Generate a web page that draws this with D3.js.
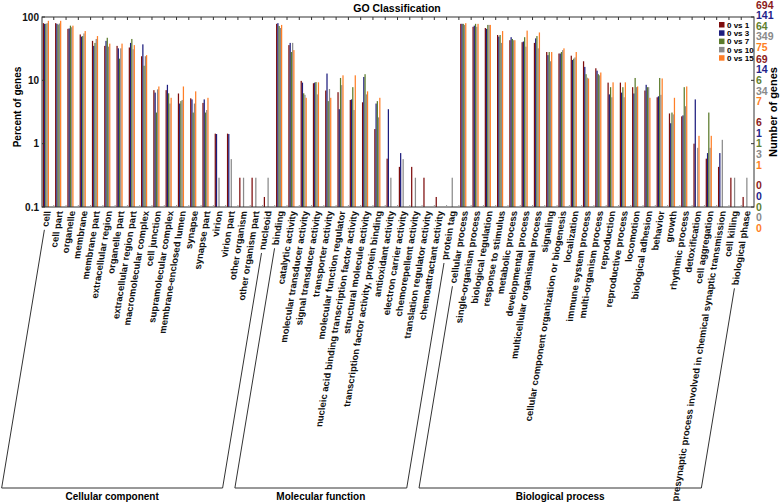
<!DOCTYPE html>
<html><head><meta charset="utf-8">
<script src="https://cdn.jsdelivr.net/npm/d3@7"></script>
<style>body{margin:0;background:#fff} svg{display:block}</style>
</head><body>
<svg id="c" width="783" height="502"></svg>
<script>
const ccTerms = ["cell","cell part","organelle","membrane","membrane part","extracellular region","organelle part","extracellular region part","macromolecular complex","cell junction","supramolecular complex","membrane-enclosed lumen","synapse","synapse part","virion","virion part","other organism","other organism part","nucleoid"];
const mfTerms = ["binding","catalytic activity","molecular transducer activity","signal transducer activity","transporter activity","molecular function regulator","nucleic acid binding transcription factor activity","structural molecule activity","transcription factor activity, protein binding","antioxidant activity","electron carrier activity","chemorepellent activity","translation regulator activity","chemoattractant activity","protein tag"];
const bpTerms = ["cellular process","single-organism process","biological regulation","response to stimulus","metabolic process","developmental process","multicellular organismal process","signaling","cellular component organization or biogenesis","localization","immune system process","multi-organism process","reproduction","reproductive process","locomotion","biological adhesion","behavior","growth","rhythmic process","detoxification","cell aggregation","presynaptic process involved in chemical synaptic transmission","cell killing","biological phase"];
const ontologies = ["Cellular component","Molecular function","Biological process"];
const categories = [...ccTerms, ...mfTerms, ...bpTerms];

const seriesNames = ["0 vs 1","0 vs 3","0 vs 7","0 vs 10","0 vs 15"];
const vs1 = [80,80,65,53,42,35,35,33,24,7.0,7.0,6.2,5.2,4.4,1.44,1.44,0.29,0.29,0.144,
 78,36,9.8,9.0,6.9,6.5,4.9,4.5,1.7,0.58,0.43,0.43,0.29,0.144,0,
 78,70,67,52,43,40,39,28,26.5,24.5,20,15.5,9.2,9.2,7.8,6.9,5.4,3.0,2.7,1.0,0.58,0.43,0.29,0.144];
const vs3 = [78,78,66,49,35,42,32,39,37,6.4,8.5,4.3,5.0,5.0,1.42,1.42,0,0,0,
 80,39,9.2,9.2,12.8,3.5,5.0,11.3,4.3,3.5,0.71,0,0,0,0,
 78,73,65,49,48,41,46,25,26.5,21,16.3,14.2,6.0,6.4,6.2,8.5,5.6,2.1,2.8,5.0,0.71,0.71,0,0];
const vs7 = [78,76,73,50,39,47,22,45,17,3.1,6.25,4.7,3.1,3.1,0,0,0,0,0,
 72,28,6.25,9.4,4.7,10.9,7.8,12.5,4.7,0,0,0,0,0,0,
 78,78,75,52,45,48,50,28,28,22,12.5,12.5,7.8,7.8,10.9,7.8,10.9,3.1,7.8,0,3.1,0,0,0];
const vs10 = [80,79,69,55,45,34,32,31,24,7.2,4.3,4.9,4.3,3.4,0.29,0.57,0.29,0.29,0.29,
 67,39,5.9,6.0,7.3,8.4,3.4,6.0,2.6,0.29,0.57,0.29,0,0,0.29,
 75,70,75,39,43,34,32,20,30,23,11,12.0,5.4,5.4,7.8,7.8,5.9,2.9,3.9,0.86,0.86,1.15,0.29,0.29];
const vs15 = [87,87,73,60,50,38,38,36,25,8.0,5.3,8.0,6.7,5.3,0,0,0,0,0,
 75,30,5.3,9.3,5.3,12.0,12.0,6.7,5.3,0,0,0,0,0,0,
 80,78,75,60,43,61,57,28,32,28,10.7,13.3,9.3,9.3,8.0,5.3,10.7,5.3,8.0,1.33,1.33,0,0,0];
const seriesValues = [vs1, vs3, vs7, vs10, vs15];

const yTicks = [100, 10, 1, 0.1];
const yTickLabels = ["100","10","1","0.1"];
const geneCounts = [[694,141,64,349,75],[69,14,6,34,7],[6,1,1,3,1],[0,0,0,0,0]];

const colors = ["#7d0c0c","#1d1d7e","#5b7b2b","#8a8a8a","#ff7f27"];
const labelColors = ["#8b1a1a","#22228a","#5f7f2f","#8a8a8a","#ff7f1e"];

const svg = d3.select("#c");
const L = 42, R = 754, T = 17, B = 207;
const narrow = "'Liberation Sans Narrow','Arial Narrow','Liberation Sans',Arial,sans-serif";
const sans = "'Liberation Sans',Arial,sans-serif";

const x0 = d3.scaleBand().domain(categories).range([L, R]).padding(0);
const x1 = d3.scaleBand().domain(seriesNames).range([0.8, 7.0]);
const y = d3.scaleLog().domain([0.1, 100]).range([B, T]);

// bars
const bars = [];
categories.forEach((c, i) => seriesNames.forEach((s, k) => {
  const v = seriesValues[k][i];
  if (v > 0) bars.push({c, s, k, v});
}));
svg.append("g").selectAll("rect").data(bars).join("rect")
  .attr("x", d => x0(d.c) + x1(d.s))
  .attr("width", x1.bandwidth())
  .attr("y", d => y(d.v))
  .attr("height", d => B - y(d.v))
  .attr("fill", d => colors[d.k]);

// frame
svg.append("rect").attr("x", L).attr("y", T).attr("width", R - L).attr("height", B - T)
  .attr("fill", "none").attr("stroke", "#333").attr("stroke-width", 1);

// category ticks top & bottom
svg.append("g").selectAll("line").data(categories.slice(1)).join("line")
  .attr("x1", d => x0(d) - 0.5).attr("x2", d => x0(d) - 0.5)
  .attr("y1", T).attr("y2", T + 3).attr("stroke", "#333");
svg.append("g").selectAll("line").data(categories.slice(1)).join("line")
  .attr("x1", d => x0(d) - 0.5).attr("x2", d => x0(d) - 0.5)
  .attr("y1", B).attr("y2", B - 2).attr("stroke", "#999");

// left axis
const yl = svg.append("g");
yl.selectAll("line").data(yTicks).join("line")
  .attr("x1", L).attr("x2", L + 3).attr("y1", d => y(d)).attr("y2", d => y(d)).attr("stroke", "#333");
yl.selectAll("text").data(yTicks).join("text")
  .attr("x", L - 3).attr("y", d => y(d)).attr("dy", "0.35em").attr("text-anchor", "end")
  .style("font", `bold 10px ${narrow}`).attr("fill", "#111")
  .text((d, i) => yTickLabels[i]);

// right axis
const yr = svg.append("g");
yr.selectAll("line").data(yTicks).join("line")
  .attr("x1", R - 3).attr("x2", R).attr("y1", d => y(d)).attr("y2", d => y(d)).attr("stroke", "#333");
const SP = 10.6;
yTicks.forEach((t, ti) => {
  const base = Math.max(y(t), 5 + 2 * SP);
  geneCounts[ti].forEach((n, k) => {
    yr.append("text").attr("x", R + 2).attr("y", base + (k - 2) * SP).attr("dy", "0.35em")
      .style("font", `bold 10.5px ${narrow}`).attr("fill", labelColors[k]).text(n);
  });
});

// title & axis titles
svg.append("text").attr("x", 397).attr("y", 11.5).attr("text-anchor", "middle")
  .style("font", `bold 10.5px ${narrow}`).text("GO Classification");
svg.append("text").attr("transform", "translate(21,107) rotate(-90)").attr("text-anchor", "middle")
  .style("font", `bold 10px ${narrow}`).text("Percent of genes");
svg.append("text").attr("transform", "translate(777,112) rotate(-90)").attr("text-anchor", "middle")
  .style("font", `bold 11px ${narrow}`).text("Number of genes");

// legend
const lg = svg.append("g");
seriesNames.forEach((s, k) => {
  const cy = 25 + k * 8.3;
  lg.append("rect").attr("x", 719).attr("y", cy - 3).attr("width", 5.5).attr("height", 5.5).attr("fill", colors[k]);
  lg.append("text").attr("x", 727).attr("y", cy).attr("dy", "0.35em")
    .style("font", `bold 8px ${narrow}`).text(s);
});

// category labels (vertical text, sheared)
const skew = -9.4, tanS = Math.tan(skew * Math.PI / 180);
const AY = 211, OFF = 5.5, BOT = 488;
const labs = svg.append("g").selectAll("text").data(categories).join("text")
  .attr("transform", d => `translate(${x0(d) + OFF},${AY}) skewX(${skew}) rotate(-90)`)
  .attr("text-anchor", "end").attr("dy", "0.35em")
  .style("font", `bold 9.5px ${sans}`).attr("fill", "#111")
  .text(d => d);
const lenOf = {};
labs.each(function(d) { lenOf[d] = this.getComputedTextLength(); });

// ontology brackets
const termSets = [ccTerms, mfTerms, bpTerms];
const br = svg.append("g");
termSets.forEach((terms, gi) => {
  const pts = [terms[0], terms[terms.length - 1]].map(t => {
    const ax = x0(t) + OFF;
    const y0 = AY + lenOf[t] + 3;
    return {xs: ax + tanS * (y0 - AY), ys: y0, xb: ax + tanS * (BOT - AY)};
  });
  br.append("path")
    .attr("d", `M${pts[0].xs},${pts[0].ys}L${pts[0].xb},${BOT}L${pts[1].xb},${BOT}L${pts[1].xs},${pts[1].ys}`)
    .attr("fill", "none").attr("stroke", "#333").attr("stroke-width", 1);
  br.append("text").attr("x", (pts[0].xb + pts[1].xb) / 2).attr("y", 500).attr("text-anchor", "middle")
    .style("font", `bold 10px ${narrow}`).text(ontologies[gi]);
});
</script>
</body></html>
